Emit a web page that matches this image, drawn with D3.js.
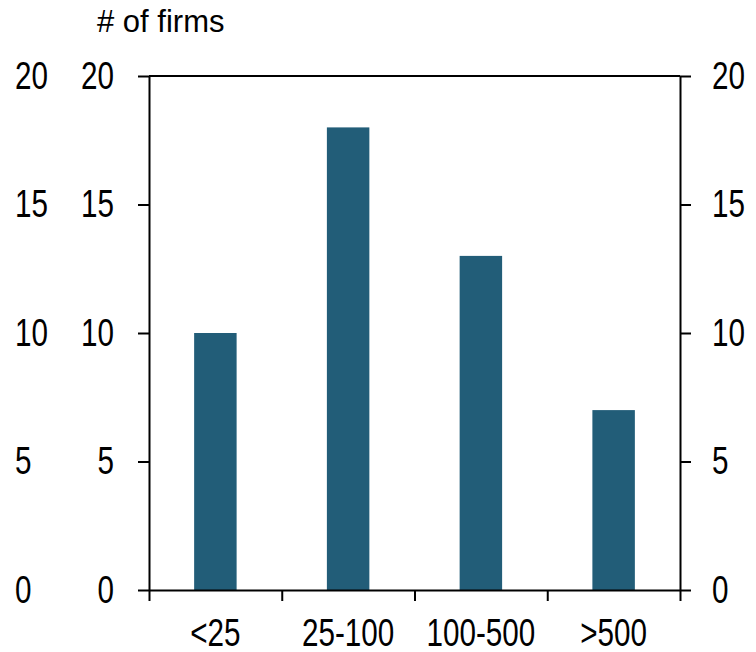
<!DOCTYPE html>
<html>
<head>
<meta charset="utf-8">
<script src="https://cdn.jsdelivr.net/npm/d3@7"></script>
<style>
  body { margin: 0; background: #fff; }
  text { font-family: "Liberation Sans", Arial, sans-serif; fill: #000; }
</style>
</head>
<body>
<div id="chart"></div>
<script>
var categories = ["<25", "25-100", "100-500", ">500"];
var firms = [10, 18, 13, 7];
var yTicks = [0, 5, 10, 15, 20];

var width = 756, height = 652;
var margin = { top: 76, left: 149, right: 76, bottom: 62 };
var w = width - margin.left - margin.right;
var h = height - margin.top - margin.bottom;
var sx = 0.78; // the original labels use a narrow face

var svg = d3.select("#chart").append("svg")
  .attr("width", width)
  .attr("height", height);

var g = svg.append("g")
  .attr("transform", "translate(" + margin.left + "," + margin.top + ")");

var x = d3.scaleBand().domain(categories).range([0, w]).paddingInner(0.68).paddingOuter(0.34);
var xTickScale = d3.scaleLinear().domain([0, categories.length]).range([0, w]);
var y = d3.scaleLinear().domain([0, 20]).range([h, 0]);

function squeeze(sel) {
  sel.each(function() {
    var t = d3.select(this);
    var xv = +t.attr("x") || 0;
    t.attr("x", xv / sx).attr("transform", "scale(" + sx + ",1)");
  });
}

// bars
g.selectAll(".bar")
  .data(firms)
  .enter().append("rect")
  .attr("class", "bar")
  .attr("x", function(d, i) { return x(categories[i]); })
  .attr("width", x.bandwidth())
  .attr("y", function(d) { return y(d); })
  .attr("height", function(d) { return h - y(d); })
  .attr("fill", "#225d78");

// frame top
g.append("line")
  .attr("x1", 0).attr("x2", w)
  .attr("y1", 0).attr("y2", 0)
  .attr("stroke", "#000").attr("stroke-width", 2);

// left axis (inner labels)
g.append("g")
  .call(d3.axisLeft(y).tickValues(yTicks).tickSize(11).tickPadding(24).tickSizeOuter(0));
// right axis
g.append("g")
  .attr("transform", "translate(" + w + ",0)")
  .call(d3.axisRight(y).tickValues(yTicks).tickSize(11).tickPadding(21).tickSizeOuter(0));
// outer left labels, no line
var outerAxis = g.append("g")
  .attr("transform", "translate(-134,0)")
  .call(d3.axisRight(y).tickValues(yTicks).tickSize(0).tickPadding(0).tickSizeOuter(0));
outerAxis.select(".domain").remove();

// bottom axis with ticks at category boundaries
g.append("g")
  .attr("transform", "translate(0," + h + ")")
  .call(d3.axisBottom(xTickScale).tickValues(d3.range(categories.length + 1)).tickSize(11).tickFormat("").tickSizeOuter(0));

g.selectAll(".domain").attr("stroke", "#000").attr("stroke-width", 2);
g.selectAll(".tick line").attr("stroke", "#000").attr("stroke-width", 2);
g.selectAll(".tick text")
  .attr("font-family", null)
  .attr("font-size", null)
  .style("font-size", "38px")
  .attr("fill", "#000")
  .call(squeeze);

// category labels
g.selectAll(".cat")
  .data(categories)
  .enter().append("text")
  .attr("class", "cat")
  .attr("x", function(d) { return x(d) + x.bandwidth() / 2; })
  .attr("y", h + 56)
  .attr("text-anchor", "middle")
  .style("font-size", "38px")
  .text(function(d) { return d; })
  .call(squeeze);

// axis title
svg.append("text")
  .attr("x", 97)
  .attr("y", 32)
  .style("font-size", "31px")
  .text("# of firms");
</script>
</body>
</html>
